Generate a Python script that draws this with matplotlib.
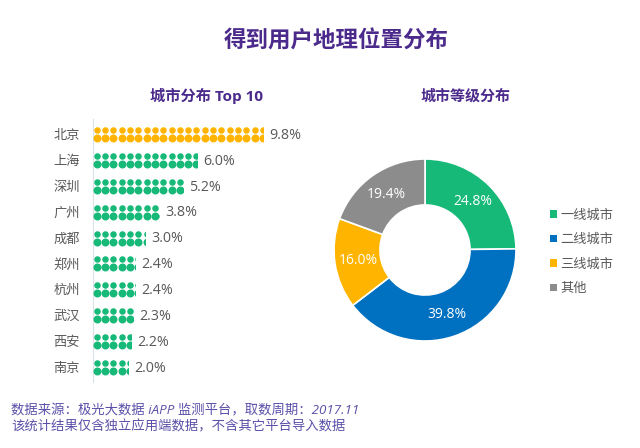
"""Rebuild the user location distribution chart."""
import matplotlib
matplotlib.use('Agg')
import matplotlib.pyplot as plt
from matplotlib.patches import Patch, Rectangle
import numpy as np

plt.rcParams['font.family'] = ['Open Sans', 'Noto Sans CJK SC', 'DejaVu Sans']

BG = '#ffffff'
TEXT = '#595959'
TITLE = '#4b2a8c'
NOTE = '#5a50a8'
GREEN = '#17b978'
BLUE = '#0070c0'
YELLOW = '#ffb400'
GRAY = '#8c8c8c'
W = 640
H = 448

cities = ['北京', '上海', '深圳', '广州', '成都', '郑州', '杭州', '武汉', '西安', '南京']
shares = [9.8, 6.0, 5.2, 3.8, 3.0, 2.4, 2.4, 2.3, 2.2, 2.0]
tiers = ['一线城市', '二线城市', '三线城市', '其他']
tier_shares = [24.8, 39.8, 16.0, 19.4]
tier_colors = [GREEN, BLUE, YELLOW, GRAY]

fig = plt.figure(figsize=(W / 100, H / 100), dpi=100)
fig.patch.set_facecolor(BG)

fig.text(336 / W, 1 - 42 / H, '得到用户地理位置分布', fontsize=16.2, fontweight='bold',
         color=TITLE, ha='center', va='center')
fig.text(207 / W, 1 - 96 / H, '城市分布 Top 10', fontsize=11, fontweight='bold',
         color=TITLE, ha='center', va='center')
fig.text(466 / W, 1 - 96 / H, '城市等级分布', fontsize=10.8, fontweight='bold',
         color=TITLE, ha='center', va='center')

# ============================================================
# Left: dotted bars
# ============================================================
ax = fig.add_axes([93 / W, 1 - 381.5 / H, 207 / W, 262 / H])
ax.set_facecolor('none')
ax.set_xlim(0, 207 / 17.3)
ax.set_ylim(9.56, -0.56)
ax.set_xticks([])
ax.set_yticks(range(len(cities)))
ax.set_yticklabels(cities, fontsize=9.5, color=TEXT)
ax.tick_params(axis='y', length=0, pad=9.4)
for side in ['top', 'right', 'bottom']:
    ax.spines[side].set_visible(False)
ax.spines['left'].set_color('#d9e2e8')
ax.spines['left'].set_linewidth(0.8)

pitch = 0.48  # about 8 px from dot to dot
dot_x = np.arange(0.22, 11, pitch)
for i, (city, share) in enumerate(zip(cities, shares)):
    color = YELLOW if i == 0 else GREEN
    clip = Rectangle((0, i - 0.36), share, 0.72, transform=ax.transData)
    # top row is a little smaller than the bottom one
    for dy, size in [(-0.155, 22), (0.155, 33)]:
        dots = ax.scatter(dot_x, np.full(len(dot_x), i + dy), s=size, color=color,
                          linewidths=0, zorder=3)
        dots.set_clip_path(clip)
    ax.text(share + 0.38, i + 0.05, f'{share:.1f}%', fontsize=10.3, color=TEXT,
            ha='left', va='center')

# ============================================================
# Right: donut
# ============================================================
ax2 = fig.add_axes([(425 - 95) / W, 1 - (250 + 95) / H, 190 / W, 190 / H])
wedges, texts, pcts = ax2.pie(tier_shares, colors=tier_colors, startangle=90, counterclock=False,
                              radius=1.0, autopct='%.1f%%', pctdistance=0.745,
                              wedgeprops=dict(width=0.505, edgecolor='white', linewidth=1.2),
                              textprops=dict(fontsize=10, color='white'))
ax2.set_xlim(-95 / 91, 95 / 91)
ax2.set_ylim(-95 / 91, 95 / 91)

handles = [Patch(facecolor=c, edgecolor='none', label=t) for c, t in zip(tier_colors, tiers)]
fig.legend(handles=handles, loc='center left', bbox_to_anchor=(546 / W, 1 - 252 / H),
           frameon=False, fontsize=9.5, handlelength=0.5, handleheight=0.5, handletextpad=0.3,
           labelspacing=0.87, labelcolor=TEXT, borderpad=0, borderaxespad=0.3)

# Source note
fig.text(11 / W, 1 - 411 / H, '数据来源：极光大数据 iAPP 监测平台，取数周期：2017.11',
         fontsize=9.6, color=NOTE, ha='left', va='center', style='italic')
fig.text(11 / W, 1 - 427 / H, '该统计结果仅含独立应用端数据，不含其它平台导入数据',
         fontsize=9.6, color=NOTE, ha='left', va='center', style='italic')

plt.savefig('out.png', dpi=100, facecolor=BG)
plt.close()
print("Saved out.png")
